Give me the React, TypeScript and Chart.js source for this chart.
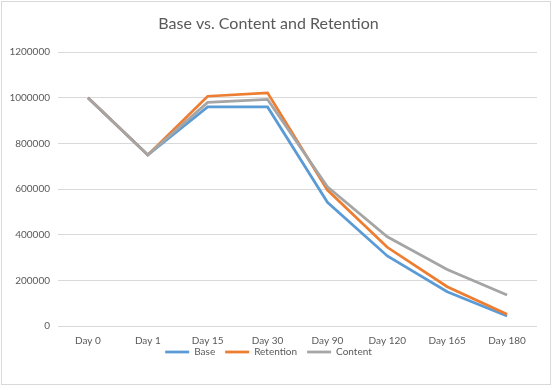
import React, { useEffect, useRef } from "react";
import { Chart, registerables } from "chart.js";

Chart.register(...registerables);

const categories = ["Day 0", "Day 1", "Day 15", "Day 30", "Day 90", "Day 120", "Day 165", "Day 180"];
const baseValues = [1000000, 750000, 960000, 960000, 542000, 307000, 150000, 44000];
const retentionValues = [1000000, 750000, 1007000, 1022000, 596000, 345000, 172000, 52000];
const contentValues = [1000000, 750000, 980000, 993000, 610000, 391000, 248000, 136000];
const titleText = "Base vs. Content and Retention";

const legendShift = {
  id: "legendShift",
  afterLayout(chart: any) {
    const lg = chart.legend;
    if (lg) {
      lg.top -= 9;
      lg.bottom -= 9;
    }
  },
};

export default function App() {
  const ref = useRef<HTMLCanvasElement | null>(null);
  useEffect(() => {
    if (!ref.current) return;
    const font = "Lato, 'Open Sans', sans-serif";
    const chart = new Chart(ref.current, {
      type: "line",
      data: {
        labels: categories,
        datasets: [
          { label: "Base", data: baseValues, borderColor: "#5B9BD5", backgroundColor: "#5B9BD5", borderWidth: 2.75, pointRadius: 0, tension: 0, order: 3 },
          { label: "Retention", data: retentionValues, borderColor: "#ED7D31", backgroundColor: "#ED7D31", borderWidth: 2.75, pointRadius: 0, tension: 0, order: 2 },
          { label: "Content", data: contentValues, borderColor: "#A5A5A5", backgroundColor: "#A5A5A5", borderWidth: 2.75, pointRadius: 0, tension: 0, order: 1 },
        ],
      },
      plugins: [legendShift],
      options: {
        animation: false,
        responsive: false,
        layout: { padding: { left: 0, right: 18, top: 14, bottom: 26 } },
        plugins: {
          title: {
            display: true,
            text: titleText,
            color: "#595959",
            font: { family: font, size: 16, weight: "normal" },
            padding: { top: 0, bottom: 19 },
          },
          legend: {
            position: "bottom",
            maxHeight: 18,
            labels: {
              usePointStyle: true,
              pointStyle: "line",
              pointStyleWidth: 24,
              boxHeight: 10,
              color: "#595959",
              font: { family: font, size: 10 },
              padding: 10,
              sort: (a: any, b: any) => a.datasetIndex - b.datasetIndex,
            },
          },
          tooltip: { enabled: false },
        },
        scales: {
          x: {
            offset: true,
            grid: { display: false, drawTicks: false },
            border: { display: false },
            afterFit: (s: any) => { s.height = 20; },
            ticks: { color: "#595959", font: { family: font, size: 10 }, padding: 9, maxRotation: 0 },
          },
          y: {
            min: 0,
            max: 1200000,
            afterFit: (s: any) => { s.width = 58; },
            grid: { color: "#d9d9d9", drawTicks: false, lineWidth: 1 },
            border: { display: false },
            ticks: { stepSize: 200000, color: "#595959", font: { family: font, size: 10 }, padding: 8, callback: (v: any) => String(v) },
          },
        },
      },
    });
    return () => chart.destroy();
  }, []);
  return (
    <div style={{ position: "fixed", left: 0, top: 0, width: 555, height: 390, background: "#fff" }}>
      <div style={{ position: "absolute", left: 1, top: 1, width: 550, height: 384, border: "1px solid #d9d9d9", boxSizing: "border-box" }} />
      <canvas ref={ref} width={555} height={390} style={{ position: "absolute", left: 0, top: 0 }} />
    </div>
  );
}
